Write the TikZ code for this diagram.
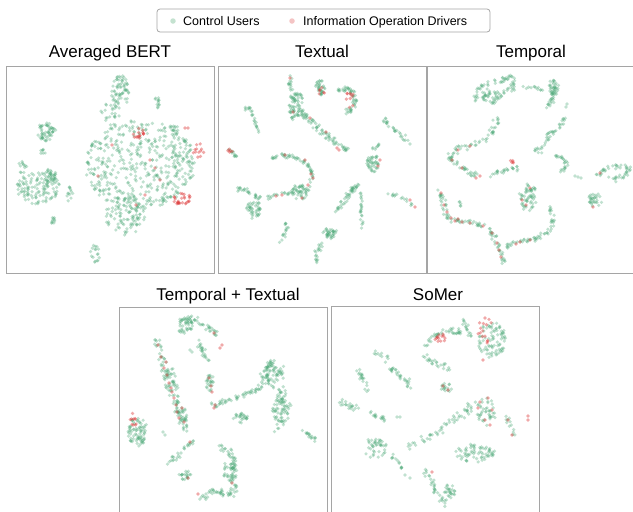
\documentclass[tikz,border=0pt]{standalone}
\usepackage{fontspec}
\setmainfont{Liberation Sans}
\definecolor{dotg}{RGB}{72,166,116}
\definecolor{dotr}{RGB}{222,64,64}
\definecolor{frame}{RGB}{165,165,165}
\definecolor{leggreen}{RGB}{196,226,208}
\definecolor{legred}{RGB}{244,196,196}

\tikzset{
  g/.style={fill=dotg, fill opacity=0.34},
  r/.style={fill=dotr, fill opacity=0.45},
  panel/.style={draw=frame, line width=0.9pt, minimum width=208pt, minimum height=207pt, inner sep=0pt},
  ttl/.style={anchor=base, font=\fontsize{17}{20}\selectfont, inner sep=0pt},
  legtxt/.style={anchor=base west, font=\fontsize{12.5}{15}\selectfont, inner sep=0pt},
}

% density and spread factors, set per panel
\def\dens{1}
\def\jmul{1}
% one scatter dot
\newcommand\dotat[3]{\fill[#1] (#2,#3) circle[radius=1.8pt];}
% dots scattered along a straight piece: style, x1, y1, x2, y2, n, jitter
\newcommand\dseg[7]{%
  \pgfmathtruncatemacro\nn{max(1,#6*\dens)}%
  \foreach \k in {1,...,\nn}{%
    \pgfmathsetmacro\tq{rnd}%
    \pgfmathsetmacro\px{#2+(#4-#2)*\tq+#7*\jmul*(rand+rand)/2}%
    \pgfmathsetmacro\py{#3+(#5-#3)*\tq+#7*\jmul*(rand+rand)/2}%
    \dotat{#1}{\px}{\py}}}
% dots along a polyline: style, n per piece, jitter, {x/y, x/y, ...}
\def\Nmark{N}
\newcommand\chain[4]{%
  \foreach \x/\y [remember=\x as \lx (initially N), remember=\y as \ly (initially N)] in {#4}{%
    \ifx\lx\Nmark\else\dseg{#1}{\lx}{\ly}{\x}{\y}{#2}{#3}\fi}}
% dots filling an ellipse: style, cx, cy, rx, ry, n
\newcommand\blob[6]{%
  \pgfmathtruncatemacro\nn{max(1,#6*\dens)}%
  \foreach \k in {1,...,\nn}{%
    \pgfmathsetmacro\ang{360*rnd}%
    \pgfmathsetmacro\rr{sqrt(rnd)}%
    \pgfmathsetmacro\px{#2+#4*\rr*cos(\ang)}%
    \pgfmathsetmacro\py{#3+#5*\rr*sin(\ang)}%
    \dotat{#1}{\px}{\py}}}
% single dots: style, {x/y, ...}
\newcommand\pts[2]{\foreach \x/\y in {#2}{\dotat{#1}{\x}{\y}}}

\begin{document}
\begin{tikzpicture}[x=1pt, y=-1pt]
\pgfmathsetseed{4711}
\useasboundingbox (0,0) rectangle (633,512);

% ---------- legend ----------
\node[draw=frame, line width=0.8pt, rounded corners=3pt, minimum width=333pt, minimum height=23pt, inner sep=0pt] (legend) at (323.5,20.5) {};
\node[circle, fill=leggreen, minimum size=5.5pt, inner sep=0pt] (lgdot) at (173,21) {};
\node[legtxt] (lgtxt) at (183,25.3) {Control Users};
\node[circle, fill=legred, minimum size=5.5pt, inner sep=0pt] (lrdot) at (292,21) {};
\node[legtxt] (lrtxt) at (303,25.3) {Information Operation Drivers};

% ---------- frames and titles ----------
\node[panel] (bert) at (110.5,169.5) {};
\node[panel] (text) at (322,170) {};
\node[panel] (temp) at (531.5,170) {};
\node[panel] (tt)   at (223,410.5) {};
\node[panel] (somer) at (435,410) {};

\node[ttl] (tbert) at (110,57.3) {Averaged BERT};
\node[ttl] (ttext) at (322,57.3) {Textual};
\node[ttl] (ttemp) at (531,57.3) {Temporal};
\node[ttl] (ttt)   at (228,300.5) {Temporal + Textual};
\node[ttl] (tsomer) at (438,300.5) {SoMer};

% ---------- Averaged BERT ----------
\def\dens{1.25}\def\jmul{1}
\blob{g}{120}{92}{9}{17}{55}
\blob{g}{157}{103}{3}{6}{10}
\blob{g}{46}{132}{10}{9}{45}
\blob{g}{43}{152}{3}{3}{6}
\blob{g}{38}{188}{22}{16}{100}
\blob{g}{50}{176}{8}{7}{20}
\blob{g}{22}{167}{5}{6}{10}
\blob{g}{68}{193}{5}{8}{10}
\blob{g}{53}{221}{3}{4}{8}
\blob{g}{95}{254}{5}{9}{14}
\blob{g}{140}{165}{55}{45}{330}
\blob{g}{125}{215}{20}{20}{80}
\blob{g}{172}{130}{9}{5}{15}
\blob{g}{110}{117}{10}{14}{20}
\blob{g}{183}{160}{12}{25}{40}
\blob{r}{140}{133}{8}{6}{12}
\blob{r}{198}{150}{6}{8}{10}
\blob{r}{182}{199}{9}{6}{22}
\pts{r}{150/160, 136/205, 98/176, 112/145, 160/180, 185/128, 155/168, 145/195, 188/128}

% ---------- Textual ----------
\def\dens{1.7}\def\jmul{1.35}
\chain{g}{8}{2}{290/75, 291/95, 292/120}
\blob{g}{297}{105}{8}{12}{35}
\blob{g}{320}{88}{5}{8}{20}
\blob{r}{322}{92}{3}{5}{4}
\chain{g}{8}{2.5}{335/91, 348/88, 355/95, 354/108, 345/113}
\blob{r}{350}{100}{5}{8}{6}
\chain{g}{14}{3}{300/110, 315/125, 330/138, 347/150}
\pts{r}{337/148, 339/150, 326/132, 310/118, 293/112, 290/78}
\chain{g}{4}{1.5}{242/110, 250/107, 253/115, 256/125, 258/132}
\chain{g}{4}{1.5}{227/146, 233/153, 238/157}
\blob{r}{230}{152}{3}{3}{3}
\chain{g}{8}{2.5}{383/120, 395/130, 407/142}
\chain{g}{5}{2}{380/143, 372/150}
\pts{g}{410/144}
\blob{g}{373}{163}{6}{9}{25}
\pts{r}{380/160, 378/166}
\chain{g}{7}{2}{272/158, 283/155, 295/157, 305/162, 312/172, 310/185}
\pts{r}{285/155, 305/160, 313/178, 311/174}
\blob{g}{300}{192}{9}{8}{30}
\pts{r}{308/185, 302/198}
\chain{g}{8}{2.5}{236/188, 248/192, 260/198}
\blob{g}{254}{210}{8}{9}{25}
\chain{g}{5}{2}{268/197, 278/195, 288/193}
\pts{r}{282/195, 276/196}
\chain{g}{9}{2.5}{337/212, 345/200, 352/190, 357/185}
\chain{g}{7}{1.5}{360/193, 361/210, 362/232}
\chain{g}{3}{2}{387/193, 395/195, 405/199, 413/205}
\pts{r}{415/207, 410/200}
\chain{g}{5}{2}{284/218, 287/230, 280/243}
\chain{g}{6}{2.5}{316/262, 318/250, 326/238, 335/230}
\blob{g}{330}{233}{8}{5}{15}

% ---------- Temporal ----------
\chain{g}{6}{2.5}{475/100, 478/88, 490/83, 505/80, 512/76, 513/88, 500/95, 493/105}
\blob{g}{490}{95}{9}{7}{20}
\chain{g}{4}{1.5}{521/86, 535/88, 548/92}
\chain{g}{6}{2.5}{550/82, 555/90, 552/100, 548/107}
\blob{g}{553}{88}{6}{8}{15}
\pts{g}{566/107, 567/104}
\chain{g}{6}{3}{567/118, 560/125, 550/135, 542/145, 537/153}
\chain{g}{6}{3}{497/118, 493/130, 485/140, 470/145, 455/150, 450/158, 460/165, 470/172, 478/178}
\pts{r}{458/150, 470/146, 452/160, 462/168, 476/178, 480/176}
\chain{g}{5}{2}{490/176, 500/172, 512/167, 520/170}
\blob{r}{512}{162}{2}{2}{3}
\chain{g}{5}{2.5}{553/155, 563/158, 567/165, 560/172}
\pts{g}{575/176, 581/178, 578/177}
\chain{g}{5}{3}{597/175, 605/170, 615/165, 625/168, 630/172, 620/178, 605/182}
\pts{r}{600/173}
\blob{g}{595}{200}{7}{8}{18}
\pts{r}{593/207}
\blob{g}{528}{197}{9}{14}{35}
\pts{r}{522/200, 530/188, 526/205}
\chain{g}{6}{2.5}{440/190, 442/200, 446/213, 453/220, 465/222, 478/224, 490/230, 496/240, 500/252, 503/262}
\pts{r}{441/193, 444/205, 447/212, 451/218, 455/221, 462/222, 470/223, 483/226, 492/233, 497/243, 499/250, 501/257, 458/219}
\chain{g}{3}{2}{458/200, 462/207}
\chain{g}{6}{2.5}{505/247, 515/243, 528/240, 538/238, 548/233, 553/220, 548/207}
\pts{r}{520/242, 530/240, 516/244}

% ---------- Temporal + Textual ----------
\chain{g}{7}{3}{178/320, 190/318, 200/322, 210/330, 218/336}
\blob{g}{185}{326}{8}{8}{20}
\chain{g}{7}{2.5}{198/340, 202/350, 208/362}
\pts{r}{222/345, 220/348, 214/333}
\chain{g}{7}{4}{158/340, 161/352, 164/367, 170/380, 174/395, 178/407, 182/420, 186/428}
\blob{g}{170}{380}{8}{12}{20}
\blob{g}{182}{415}{6}{10}{15}
\pts{r}{158/345, 161/357, 164/368, 167/375, 169/383, 172/392, 174/398, 176/405, 177/412, 179/418, 171/388, 166/362, 184/422, 182/408}
\pts{g}{190/350, 192/352}
\blob{g}{210}{383}{4}{9}{15}
\pts{r}{209/378, 211/386, 212/392}
\chain{g}{6}{2.5}{212/405, 222/403, 232/399, 245/395, 255/390, 264/386}
\pts{r}{215/405, 214/408}
\blob{g}{240}{418}{8}{5}{15}
\chain{g}{7}{4}{272/358, 268/370, 262/380, 275/385, 282/395, 287/405, 283/418, 278/430}
\blob{g}{275}{372}{10}{12}{30}
\blob{g}{280}{410}{8}{12}{25}
\chain{g}{5}{2}{303/432, 310/436, 316/440}
\blob{g}{138}{432}{10}{15}{45}
\blob{r}{134}{420}{5}{7}{6}
\pts{g}{163/432, 165/435}
\chain{g}{8}{2.5}{170/462, 180/452, 193/440}
\pts{r}{190/442}
\chain{g}{7}{3}{222/447, 230/452, 235/462, 232/475, 235/488, 232/495, 220/493, 210/492, 200/497}
\blob{g}{230}{470}{7}{12}{20}
\blob{g}{185}{475}{6}{6}{12}
\pts{r}{232/483, 198/494, 188/478}

% ---------- SoMer ----------
\chain{g}{6}{3}{427/345, 433/335, 443/332, 455/330, 460/333}
\blob{r}{440}{338}{6}{5}{8}
\chain{g}{5}{2}{463/318, 467/328, 470/337}
\blob{g}{492}{340}{14}{18}{50}
\blob{r}{485}{330}{8}{14}{9}
\pts{r}{483/360}
\chain{g}{5}{3}{423/355, 430/360, 440/365, 452/370}
\chain{g}{3}{2}{373/353, 380/355, 387/357}
\chain{g}{6}{3}{388/363, 395/372, 405/378, 410/388}
\chain{g}{6}{3}{357/368, 362/378, 367/390}
\blob{g}{446}{388}{6}{5}{10}
\pts{r}{443/386, 448/390}
\chain{g}{6}{3}{340/402, 348/405, 358/410}
\chain{g}{5}{2}{370/412, 378/416, 385/420}
\pts{g}{400/417, 397/417}
\chain{g}{7}{4}{410/447, 425/438, 440/430, 455/420, 465/412, 473/405}
\blob{g}{486}{412}{10}{14}{25}
\pts{r}{480/402, 488/398, 492/410, 485/420, 490/425, 478/408}
\chain{g}{4}{2}{505/415, 510/425, 515/437}
\pts{r}{512/435, 508/420, 528/416, 528/420}
\blob{g}{375}{448}{12}{10}{25}
\chain{g}{4}{2}{392/455, 398/462, 402/468}
\pts{g}{405/475, 410/478}
\blob{g}{475}{453}{20}{10}{40}
\chain{g}{5}{3}{425/470, 430/480, 435/490, 440/498, 447/504}
\blob{g}{450}{490}{6}{8}{15}
\pts{r}{432/472}

\end{tikzpicture}
\end{document}
